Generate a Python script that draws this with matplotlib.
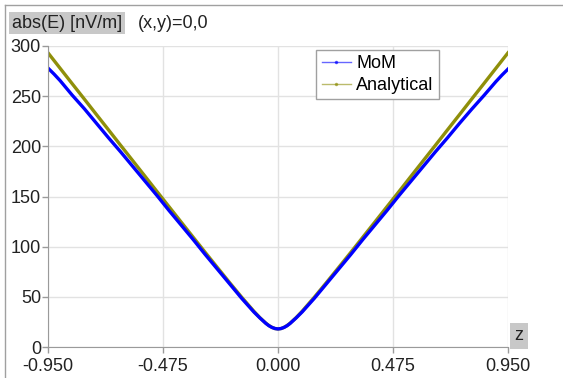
import matplotlib
matplotlib.use("Agg")
import matplotlib.pyplot as plt
from matplotlib.lines import Line2D

plt.rcParams['font.family'] = ['Liberation Sans', 'DejaVu Sans']
plt.rcParams['font.size'] = 13

# field along z at (x,y)=0,0
z = [-0.95, -0.925, -0.9, -0.85, -0.8, -0.75, -0.7, -0.65, -0.6, -0.55, -0.5,
     -0.45, -0.4, -0.35, -0.3, -0.25, -0.2, -0.15, -0.1, -0.075, -0.05, -0.0375,
     -0.025, -0.0125, 0.0,
     0.0125, 0.025, 0.0375, 0.05, 0.075, 0.1, 0.15, 0.2, 0.25, 0.3, 0.35, 0.4,
     0.45, 0.5, 0.55, 0.6, 0.65, 0.7, 0.75, 0.8, 0.85, 0.9, 0.925, 0.95]
E_mom = [278, 272, 265.5, 251, 237.5, 223, 208.5, 194.5, 180, 165.5, 151,
         136, 121.5, 107, 92, 77.5, 63, 48.5, 35, 29, 23.5, 21.2,
         19.5, 18.4, 18,
         18.4, 19.5, 21.2, 23.5, 29, 35, 48.5, 63, 77.5, 92, 107, 121.5,
         136, 151, 165.5, 180, 194.5, 208.5, 223, 237, 250.5, 264.5, 271, 277]
E_analytical = [293.2, 285.5, 277.8, 262.4, 247.1, 231.7, 216.4, 201.0, 185.7, 170.4, 155.0,
                139.8, 124.5, 109.3, 94.1, 79.1, 64.2, 49.6, 35.7, 29.3, 23.7, 21.4,
                19.6, 18.4, 18.0,
                18.4, 19.6, 21.4, 23.7, 29.3, 35.7, 49.6, 64.2, 79.1, 94.1, 109.3, 124.5,
                139.8, 155.0, 170.4, 185.7, 201.0, 216.4, 231.7, 247.1, 262.4, 277.8, 285.5, 293.2]

xticks = [-0.95, -0.475, 0.0, 0.475, 0.95]
yticks = [0, 50, 100, 150, 200, 250, 300]

c_mom = '#0000ff'
c_ana = '#8f8f0a'

fig = plt.figure(figsize=(5.63, 3.78), dpi=100)
ax = fig.add_axes([48/563, 31/378, 460/563, 301/378])

ax.plot(z, E_analytical, color=c_ana, lw=2.4)
ax.plot(z, E_mom, color=c_mom, lw=2.4)

ax.set_xlim(-0.95, 0.95)
ax.set_ylim(0, 300)
ax.set_xticks(xticks)
ax.set_xticklabels([f'{t:.3f}' for t in xticks])
ax.set_yticks(yticks)
ax.grid(True, color='#e2e2e2', lw=1)
ax.set_axisbelow(True)
for s in ['top', 'right']:
    ax.spines[s].set_visible(False)
for s in ['left', 'bottom']:
    ax.spines[s].set_color('#9a9a9a')
ax.tick_params(colors='#9a9a9a', labelcolor='#222222', length=4, width=1)
ax.tick_params(axis='y', pad=1)
ax.tick_params(axis='x', pad=4)

handles = [Line2D([], [], color=c_mom, lw=1, marker='.', ms=3, alpha=0.6),
           Line2D([], [], color=c_ana, lw=1, marker='.', ms=3, alpha=0.6)]
leg = ax.legend(handles, ['MoM', 'Analytical'], loc='upper right',
                bbox_to_anchor=(391/460, 297/301), fancybox=False,
                edgecolor='#a0a0a0', framealpha=1, handlelength=1.6,
                handletextpad=0.3, borderpad=0.3, labelspacing=0.25, borderaxespad=0)
leg.get_frame().set_linewidth(1)

# axis titles in grey boxes
fig.text(12/563, 1 - 23/378, 'abs(E) [nV/m]', va='center', ha='left', color='#222222',
         bbox=dict(boxstyle='square,pad=0.15', fc='#c8c8c8', ec='none'))
fig.text(138/563, 1 - 23/378, '(x,y)=0,0', va='center', ha='left', color='#222222')
fig.text(519/563, 1 - 336/378, 'z', va='center', ha='center', color='#222222',
         bbox=dict(boxstyle='square,pad=0.25', fc='#c8c8c8', ec='none'))

# partial outer frame
fig.add_artist(Line2D([4.5/563, 4.5/563], [0, 1 - 4.5/378], color='#a0a0a0', lw=1))
fig.add_artist(Line2D([4.5/563, 1], [1 - 4.5/378, 1 - 4.5/378], color='#a0a0a0', lw=1))

fig.savefig('out.png', dpi=100)
